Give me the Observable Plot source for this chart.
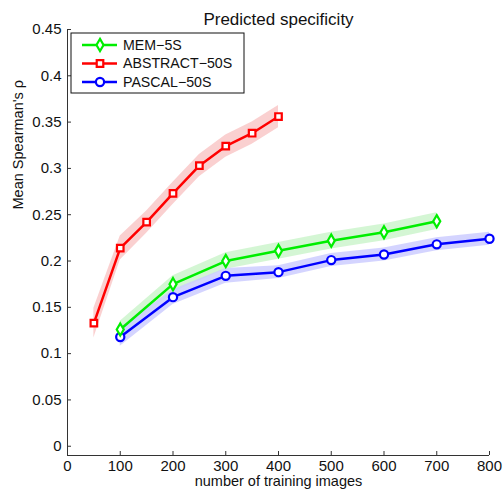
<!DOCTYPE html>
<html>
<head>
<meta charset="utf-8">
<script src="https://cdn.jsdelivr.net/npm/d3@7"></script>
<script src="https://cdn.jsdelivr.net/npm/@observablehq/plot@0.6"></script>
<style>
  html, body { margin: 0; padding: 0; background: #fff; }
  svg { font-family: "Liberation Sans", Arial, sans-serif; }
</style>
</head>
<body>
<div id="chart"></div>
<script>
const seriesNames = ["MEM\u22125S", "ABSTRACT\u221250S", "PASCAL\u221250S"];
const seriesColors = ["#00ee00", "#ff0000", "#0000ff"];
const bandColors = ["#ccf5cc", "#f9c8c8", "#ccccff"];
const seriesSymbols = ["diamond", "square", "circle"];

const xMem = [100, 200, 300, 400, 500, 600, 700];
const yMem = [0.126, 0.175, 0.200, 0.211, 0.222, 0.231, 0.243];
const eMem = [0.009, 0.009, 0.009, 0.009, 0.009, 0.009, 0.009];

const xAbstract = [50, 100, 150, 200, 250, 300, 350, 400];
const yAbstract = [0.133, 0.214, 0.242, 0.273, 0.303, 0.324, 0.338, 0.356];
const eAbstract = [0.016, 0.013, 0.012, 0.012, 0.012, 0.012, 0.012, 0.012];

const xPascal = [100, 200, 300, 400, 500, 600, 700, 800];
const yPascal = [0.118, 0.161, 0.184, 0.188, 0.201, 0.207, 0.218, 0.224];
const ePascal = [0.010, 0.008, 0.008, 0.007, 0.007, 0.007, 0.007, 0.007];

const xTicks = [0, 100, 200, 300, 400, 500, 600, 700, 800];
const yTicks = [0, 0.05, 0.1, 0.15, 0.2, 0.25, 0.3, 0.35, 0.4, 0.45];

const raw = [[xMem, yMem, eMem], [xAbstract, yAbstract, eAbstract], [xPascal, yPascal, ePascal]];
const data = raw.flatMap(([xs, ys, es], i) =>
  xs.map((x, j) => ({series: seriesNames[i], idx: i, x, y: ys[j], lo: ys[j] - es[j], hi: ys[j] + es[j]})));

const fmt = v => (v === 0 ? "0" : String(+v.toFixed(2)));
const symR = [3.7, 3.7, 4.1];

const marks = [];
[0, 2, 1].forEach(i => {
  marks.push(Plot.areaY(data.filter(d => d.idx === i), {x: "x", y1: "lo", y2: "hi", fill: bandColors[i], fillOpacity: 0.85, curve: "linear"}));
});
marks.push(Plot.ruleX([0], {y1: -0.01, y2: 0.45, stroke: "#333", strokeWidth: 1}));
marks.push(Plot.ruleY([-0.01], {x1: 0, x2: 800, stroke: "#333", strokeWidth: 1}));
marks.push(Plot.axisY({ticks: yTicks, tickSize: -4, tickPadding: 10, tickFormat: fmt, fontSize: 15, label: null, stroke: "#333"}));
marks.push(Plot.axisX({ticks: xTicks, tickSize: -4, tickPadding: 9, fontSize: 15, label: null, stroke: "#333"}));
[2, 0, 1].forEach(i => {
  marks.push(Plot.line(data.filter(e => e.idx === i), {x: "x", y: "y", stroke: seriesColors[i], strokeWidth: 2.5}));
});
[2, 0, 1].forEach(i => {
  marks.push(Plot.dot(data.filter(e => e.idx === i), {x: "x", y: "y", symbol: () => seriesSymbols[i], r: symR[i], fill: "white", stroke: seriesColors[i], strokeWidth: 2.2}));
});
marks.push(Plot.text(["Predicted specificity"], {frameAnchor: "top", dy: -17, fontSize: 17, fill: "#111"}));
marks.push(Plot.text(["number of training images"], {frameAnchor: "bottom", dy: 30, fontSize: 14.5, fill: "#111"}));
marks.push(Plot.text(["Mean Spearman's \u03c1"], {frameAnchor: "left", dx: -49, dy: -33, rotate: -90, fontSize: 14.5, fill: "#111"}));

const plot = Plot.plot({
  width: 503,
  height: 497,
  marginLeft: 67,
  marginRight: 14,
  marginTop: 29,
  marginBottom: 42,
  x: {domain: [0, 800]},
  y: {domain: [-0.01, 0.45]},
  style: {fontFamily: "Liberation Sans, Arial, sans-serif", color: "#111", background: "white"},
  marks
});
document.getElementById("chart").appendChild(plot);

// legend box inside plot area
const svg = d3.select(plot);
const lg = svg.append("g").attr("transform", "translate(71,33)").attr("text-anchor", "start");
lg.append("rect").attr("width", 173).attr("height", 60).attr("fill", "white").attr("stroke", "#111").attr("stroke-width", 1);
const legSyms = [d3.symbolDiamond, d3.symbolSquare, d3.symbolCircle];
seriesNames.forEach((name, i) => {
  const yy = 12 + i * 18.5;
  const g = lg.append("g").attr("transform", `translate(0,${yy})`);
  g.append("line").attr("x1", 11).attr("x2", 46).attr("y1", 0).attr("y2", 0)
    .attr("stroke", seriesColors[i]).attr("stroke-width", 2.5);
  const sym = d3.symbol().type(legSyms[i]).size(Math.PI * symR[i] * symR[i]);
  g.append("path").attr("d", sym()).attr("transform", "translate(29,0)")
    .attr("fill", "white").attr("stroke", seriesColors[i]).attr("stroke-width", 2.2);
  g.append("text").attr("x", 52).attr("y", 0).attr("dy", "0.35em")
    .attr("font-size", 14.2).attr("fill", "#111").attr("text-anchor", "start").text(name);
});
</script>
</body>
</html>
